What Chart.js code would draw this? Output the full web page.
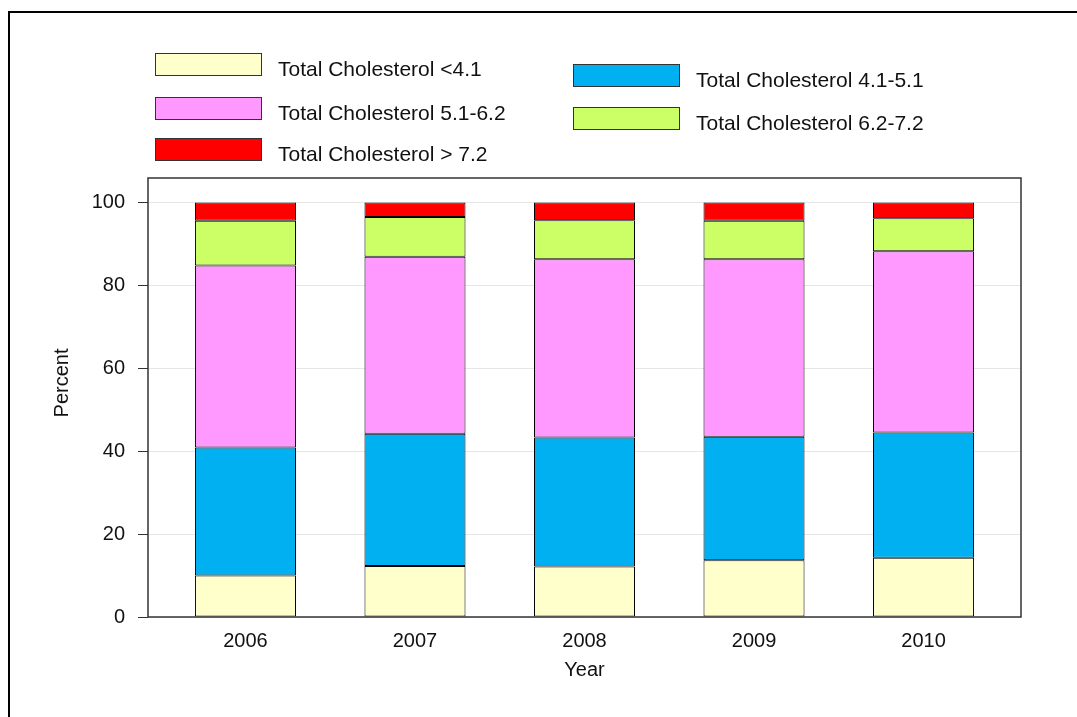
<!DOCTYPE html>
<html>
<head>
<meta charset="utf-8">
<script src="https://cdn.jsdelivr.net/npm/chart.js@4"></script>
<style>
  html, body { margin: 0; padding: 0; background: #fff; }
  #wrap { width: 1077px; height: 717px; position: relative; }
</style>
</head>
<body>
<div id="wrap"><canvas id="cholChart" width="1077" height="717"></canvas></div>
<script>
const years = [2006, 2007, 2008, 2009, 2010];
const seriesNames = [
    "Total Cholesterol <4.1",
    "Total Cholesterol 4.1-5.1",
    "Total Cholesterol 5.1-6.2",
    "Total Cholesterol 6.2-7.2",
    "Total Cholesterol > 7.2"
];
const below41 = [10.0, 12.3, 12.2, 13.7, 14.3];
const from41to51 = [30.9, 31.9, 31.1, 29.8, 30.2];
const from51to62 = [43.9, 42.7, 43.0, 42.8, 43.7];
const from62to72 = [10.8, 9.6, 9.4, 9.3, 8.0];
const above72 = [4.4, 3.5, 4.3, 4.4, 3.8];
const yTicks = [0, 20, 40, 60, 80, 100];

const seriesValues = [below41, from41to51, from51to62, from62to72, above72];
const seriesColors = ["#FFFFCC", "#00B0F0", "#FF99FF", "#CCFF66", "#FF0000"];

const FONT = "'Liberation Sans', Arial, sans-serif";

// legend slots: two columns, like the original
const legendSlots = [
    { x: 155, y: 53 }, { x: 573, y: 64 },
    { x: 155, y: 97 }, { x: 573, y: 107 },
    { x: 155, y: 138 }
];

const framePlugin = {
    id: "frame",
    beforeDraw(chart) {
        const c = chart.ctx;
        c.save();
        c.strokeStyle = "#000";
        c.lineWidth = 2;
        c.strokeRect(9, 12, 1200, 800);
        c.restore();
    },
    afterDraw(chart) {
        const c = chart.ctx;
        const a = chart.chartArea;
        c.save();
        c.strokeStyle = "#333";
        c.lineWidth = 1.5;
        c.strokeRect(a.left, a.top, a.right - a.left, a.bottom - a.top);

        // y axis title, sits a bit above the middle in the original
        c.save();
        c.translate(62, 383);
        c.rotate(-Math.PI / 2);
        c.font = "20px " + FONT;
        c.fillStyle = "#111";
        c.textAlign = "center";
        c.textBaseline = "middle";
        c.fillText("Percent", 0, 0);
        c.restore();

        // legend
        c.font = "21px " + FONT;
        c.textBaseline = "alphabetic";
        c.textAlign = "left";
        chart.data.datasets.forEach((ds, i) => {
            const s = legendSlots[i];
            c.fillStyle = ds.backgroundColor;
            c.fillRect(s.x, s.y, 106, 22);
            c.strokeStyle = "#333";
            c.lineWidth = 1;
            c.strokeRect(s.x + 0.5, s.y + 0.5, 106, 22);
            c.fillStyle = "#111";
            c.fillText(ds.label, s.x + 123, s.y + 23);
        });
        c.restore();
    }
};

const ctx = document.getElementById("cholChart").getContext("2d");

new Chart(ctx, {
    type: "bar",
    data: {
        datasets: seriesNames.map((name, i) => ({
            label: name,
            data: years.map((yr, j) => ({ x: yr, y: seriesValues[i][j] })),
            backgroundColor: seriesColors[i],
            borderColor: "#000",
            borderWidth: 1,
            borderSkipped: false,
            categoryPercentage: 1,
            barPercentage: 0.596
        }))
    },
    options: {
        responsive: false,
        animation: false,
        layout: { padding: { top: 178, right: 56, left: 0, bottom: 0 } },
        plugins: {
            legend: { display: false },
            tooltip: { enabled: false }
        },
        scales: {
            x: {
                type: "linear",
                offset: false,
                stacked: true,
                min: 2005.425,
                max: 2010.575,
                grid: { display: false, drawTicks: false },
                border: { display: false },
                afterFit: scale => { scale.height = 100; },
                afterBuildTicks: scale => {
                    scale.ticks = years.map(v => ({ value: v }));
                },
                ticks: {
                    padding: 12,
                    color: "#111",
                    font: { family: FONT, size: 20 },
                    callback: v => String(v)
                },
                title: {
                    display: true,
                    text: "Year",
                    color: "#111",
                    font: { family: FONT, size: 20 },
                    padding: { top: 0, bottom: 35 }
                }
            },
            y: {
                stacked: true,
                min: 0,
                max: 105.9,
                grid: {
                    color: "#e6e6e6",
                    lineWidth: 1,
                    tickLength: 10,
                    tickColor: "#333"
                },
                border: { display: false },
                afterFit: scale => { scale.width = 148; },
                afterBuildTicks: scale => {
                    scale.ticks = yTicks.map(v => ({ value: v }));
                },
                ticks: {
                    padding: 13,
                    color: "#111",
                    font: { family: FONT, size: 20 }
                }
            }
        }
    },
    plugins: [framePlugin]
});
</script>
</body>
</html>
